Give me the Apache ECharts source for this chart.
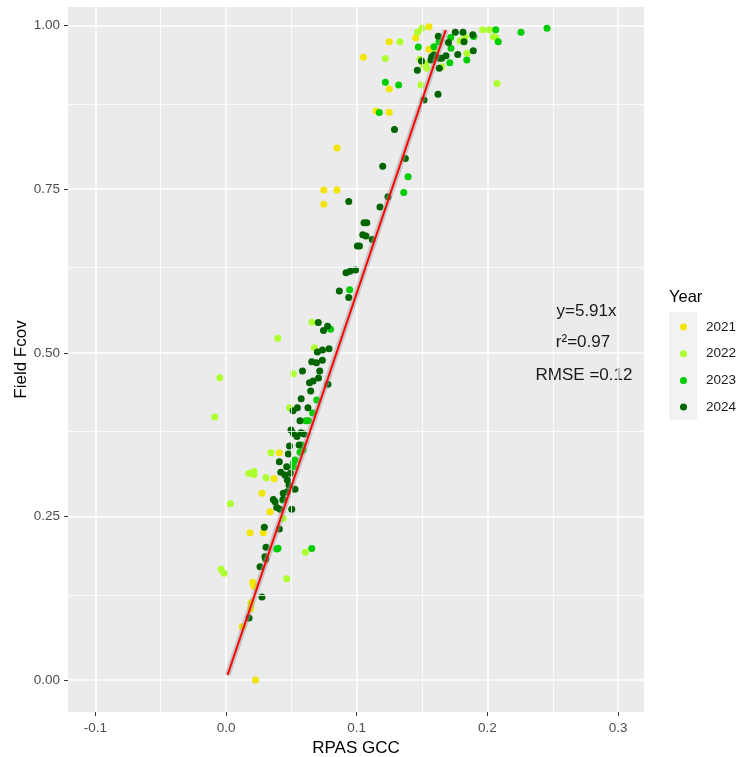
<!DOCTYPE html>
<html>
<head>
<meta charset="utf-8">
<script src="https://cdn.jsdelivr.net/npm/echarts@6/dist/echarts.min.js"></script>
<style>
  html, body { margin: 0; padding: 0; background: #fff; }
  #main { width: 738px; height: 757px; }
</style>
</head>
<body>
<div id="main"></div>
<script>
// RPAS GCC (x) vs Field Fcov (y), per year
const pts2021 = [
  [0.1051, 0.9516], [0.0849, 0.8130], [0.0748, 0.7488], [0.0849, 0.7488], [0.0748, 0.7269],
  [0.1148, 0.8695], [0.1249, 0.8675], [0.1249, 0.9754], [0.1451, 0.9815], [0.1553, 0.9983],
  [0.1553, 0.9638], [0.1249, 0.9031], [0.0408, 0.3473], [0.0367, 0.3076], [0.0275, 0.2853],
  [0.0337, 0.2572], [0.0184, 0.2251], [0.0285, 0.2251], [0.0204, 0.1493], [0.0214, 0.1432],
  [0.0191, 0.1181], [0.0189, 0.1090], [0.0125, 0.0815], [0.0226, 0.0000]
];
const pts2022 = [
  [0.0658, 0.5466], [0.0396, 0.5222], [0.0676, 0.5078], [0.0515, 0.4681], [-0.0048, 0.4620],
  [-0.0086, 0.4019], [0.0486, 0.4161], [0.0344, 0.3473], [0.0174, 0.3156], [0.0214, 0.3186],
  [0.0214, 0.3140], [0.0306, 0.3091], [0.0034, 0.2693], [0.0438, 0.2468], [0.0607, 0.1951],
  [-0.0038, 0.1692], [-0.0015, 0.1632], [0.0464, 0.1548], [0.1465, 0.9898], [0.1500, 0.9959],
  [0.1829, 0.9830], [0.1811, 0.9765], [0.1790, 0.9765], [0.1963, 0.9936], [0.2015, 0.9936],
  [0.2045, 0.9830], [0.2066, 0.9815], [0.1331, 0.9754], [0.1844, 0.9577], [0.1484, 0.9485],
  [0.1510, 0.9398], [0.1528, 0.9413], [0.1536, 0.9347], [0.1650, 0.9372], [0.1219, 0.9497],
  [0.1492, 0.9092], [0.2073, 0.9115], [0.1599, 0.9597]
];
const pts2023 = [
  [0.0946, 0.5964], [0.0800, 0.5359], [0.0694, 0.4279], [0.0663, 0.4080], [0.0611, 0.3961],
  [0.0631, 0.3961], [0.0579, 0.3591], [0.0566, 0.3481], [0.0589, 0.3515], [0.0528, 0.3362],
  [0.0515, 0.3311], [0.0515, 0.3259], [0.0434, 0.2751], [0.0388, 0.2002], [0.0398, 0.2013],
  [0.0656, 0.2010], [0.1173, 0.8672], [0.1393, 0.7691], [0.1360, 0.7450], [0.1219, 0.9134],
  [0.1321, 0.9092], [0.1471, 0.9673], [0.1591, 0.9676], [0.1719, 0.9818], [0.1630, 0.9754],
  [0.1895, 0.9833], [0.2064, 0.9936], [0.2083, 0.9754], [0.2257, 0.9898], [0.2456, 0.9959],
  [0.1721, 0.9653], [0.1842, 0.9474], [0.1712, 0.9433]
];
const pts2024 = [
  [0.0939, 0.7312], [0.1056, 0.6988], [0.1077, 0.6988], [0.1046, 0.6805], [0.1071, 0.6785],
  [0.1005, 0.6632], [0.1021, 0.6632], [0.1119, 0.6731], [0.0918, 0.6224], [0.0949, 0.6245],
  [0.0991, 0.6265], [0.0867, 0.5944], [0.0939, 0.5845], [0.0706, 0.5463], [0.0777, 0.5407],
  [0.0746, 0.5341], [0.0699, 0.5012], [0.0738, 0.5043], [0.0788, 0.5061], [0.0656, 0.4864],
  [0.0692, 0.4847], [0.0737, 0.4885], [0.0585, 0.4722], [0.0717, 0.4722], [0.0639, 0.4543],
  [0.0666, 0.4569], [0.0708, 0.4615], [0.0648, 0.4416], [0.0780, 0.4519], [0.0575, 0.4299],
  [0.0513, 0.4114], [0.0546, 0.4161], [0.0627, 0.4161], [0.0566, 0.3961], [0.0497, 0.3820],
  [0.0516, 0.3767], [0.0543, 0.3721], [0.0574, 0.3778], [0.0597, 0.3759], [0.0486, 0.3576],
  [0.0559, 0.3591], [0.0477, 0.3454], [0.0408, 0.3336], [0.0464, 0.3260], [0.0419, 0.3174],
  [0.0451, 0.3133], [0.0493, 0.3159], [0.0469, 0.3056], [0.0482, 0.2980], [0.0469, 0.2877],
  [0.0438, 0.2853], [0.0528, 0.2914], [0.0362, 0.2758], [0.0375, 0.2725], [0.0438, 0.2761],
  [0.0388, 0.2636], [0.0413, 0.2608], [0.0503, 0.2608], [0.0293, 0.2333], [0.0408, 0.2307],
  [0.0306, 0.2028], [0.0298, 0.1884], [0.0304, 0.1844], [0.0260, 0.1731], [0.0275, 0.1268],
  [0.0176, 0.0947], [0.1289, 0.8412], [0.1372, 0.7969], [0.1199, 0.7852], [0.1239, 0.7386],
  [0.1178, 0.7228], [0.1515, 0.8863], [0.1622, 0.8950], [0.1464, 0.9318], [0.1632, 0.9347],
  [0.1574, 0.9525], [0.1591, 0.9551], [0.1683, 0.9540], [0.1650, 0.9500], [0.1632, 0.9500],
  [0.1773, 0.9558], [0.1892, 0.9615], [0.1702, 0.9742], [0.1624, 0.9836], [0.1754, 0.9898],
  [0.1813, 0.9898], [0.1888, 0.9861], [0.1821, 0.9754], [0.1496, 0.9459], [0.1568, 0.9474]
];

// fitted line y = 5.91x, end points
const fitX = [0.0012, 0.1681];
const fitY = [0.0076, 0.9933];

const years = ['2021', '2022', '2023', '2024'];
const yearColors = ['#F2E600', '#ADFF2F', '#00CD00', '#006400'];
const xTicks = [-0.1, 0, 0.1, 0.2, 0.3];
const yTicks = [0, 0.25, 0.5, 0.75, 1];
const xMinor = [-0.05, 0.05, 0.15, 0.25];
const yMinor = [0.125, 0.375, 0.625, 0.875];
const statLines = ['y=5.91x', 'r\u00B2=0.97', 'RMSE =0.12'];

const font = '"Liberation Sans", Arial, sans-serif';
const chart = echarts.init(document.getElementById('main'));

const yearSeries = [pts2021, pts2022, pts2023, pts2024].map((pts, i) => ({
  name: years[i],
  type: 'scatter',
  data: pts,
  symbol: 'circle',
  symbolSize: 7,
  itemStyle: { color: yearColors[i], opacity: 1 },
  z: 3,
  silent: true
}));

const fitData = fitX.map((x, i) => [x, fitY[i]]);

const option = {
  animation: false,
  textStyle: { fontFamily: font },
  grid: {
    left: 68, right: 94, top: 7, bottom: 45,
    outerBoundsMode: 'none',
    containLabel: false,
    show: true, backgroundColor: '#EBEBEB', borderWidth: 0
  },
  xAxis: {
    type: 'value',
    min: -0.1209, max: 0.3198,
    name: 'RPAS GCC',
    nameLocation: 'middle',
    nameGap: 28,
    nameMoveOverlap: false,
    nameTextStyle: { color: '#000', fontSize: 17, fontFamily: font },
    axisLine: { show: false, onZero: false },
    axisTick: { show: true, length: 4, lineStyle: { color: '#333', width: 1 }, customValues: xTicks },
    axisLabel: {
      customValues: xTicks, color: '#4D4D4D', fontSize: 13.5, margin: 9,
      formatter: v => v.toFixed(1)
    },
    splitLine: { show: true, lineStyle: { color: '#fff', width: 1.5 } }
  },
  yAxis: {
    type: 'value',
    min: -0.0489, max: 1.0284,
    name: 'Field Fcov',
    nameLocation: 'middle',
    nameGap: 38,
    nameMoveOverlap: false,
    nameTextStyle: { color: '#000', fontSize: 17, fontFamily: font },
    axisLine: { show: false, onZero: false },
    axisTick: { show: true, length: 4, lineStyle: { color: '#333', width: 1 }, customValues: yTicks },
    axisLabel: {
      customValues: yTicks, color: '#4D4D4D', fontSize: 13.5, margin: 8,
      formatter: v => v.toFixed(2)
    },
    splitLine: { show: true, lineStyle: { color: '#fff', width: 1.5 } }
  },
  legend: {
    orient: 'vertical',
    left: 680, top: 319,
    padding: 0,
    data: years,
    icon: 'circle',
    itemWidth: 7, itemHeight: 7,
    itemGap: 10.7,
    textStyle: { fontSize: 13.5, color: '#1A1A1A', fontFamily: font, lineHeight: 16, padding: [0, 0, 0, 14] },
    selectedMode: false
  },
  graphic: [
    { type: 'rect', left: 669, top: 312, shape: { width: 28, height: 108 }, style: { fill: '#F2F2F2' }, z: -1 },
    { type: 'text', left: 669, top: 289, style: { text: 'Year', fontSize: 16.5, fill: '#000', fontFamily: font } },
    { type: 'text', x: 586.5, y: 311, style: { text: statLines[0], fontSize: 17, fill: '#1A1A1A', fontFamily: font, align: 'center', verticalAlign: 'middle' } },
    { type: 'text', x: 583, y: 342, style: { text: statLines[1], fontSize: 17, fill: '#1A1A1A', fontFamily: font, align: 'center', verticalAlign: 'middle' } },
    { type: 'text', x: 584, y: 375, style: { text: statLines[2], fontSize: 17, fill: '#1A1A1A', fontFamily: font, align: 'center', verticalAlign: 'middle' } }
  ],
  series: [
    {
      name: 'minor',
      type: 'line',
      data: [],
      silent: true,
      z: 1,
      markLine: {
        silent: true,
        symbol: 'none',
        label: { show: false },
        lineStyle: { color: '#fff', width: 0.8, type: 'solid' },
        data: xMinor.map(v => ({ xAxis: v })).concat(yMinor.map(v => ({ yAxis: v })))
      }
    },
    ...yearSeries,
    {
      name: 'band',
      type: 'line',
      data: fitData,
      symbol: 'none',
      silent: true,
      z: 4,
      lineStyle: { color: 'rgba(153,153,153,0.45)', width: 6 }
    },
    {
      name: 'fit',
      type: 'line',
      data: fitData,
      symbol: 'none',
      silent: true,
      z: 5,
      lineStyle: { color: '#FF0000', width: 2 }
    }
  ]
};

chart.setOption(option);
</script>
</body>
</html>
